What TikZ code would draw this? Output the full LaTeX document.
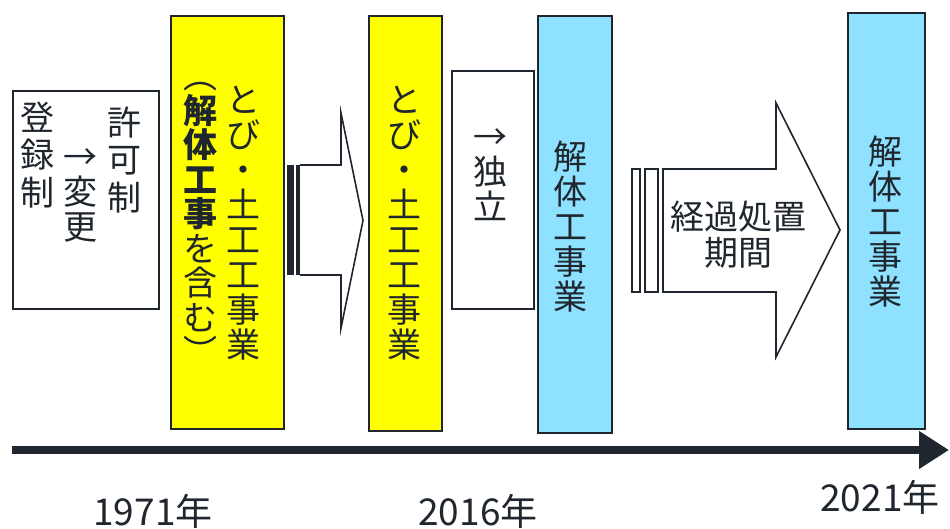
\documentclass[tikz,border=0pt]{standalone}
\usepackage{fontspec}
\setmainfont{Noto Sans CJK JP}
\usetikzlibrary{arrows.meta}
\definecolor{ln}{HTML}{1F262D}
\definecolor{yel}{HTML}{FFFF00}
\definecolor{sky}{HTML}{8EE1FF}
\begin{document}
\begin{tikzpicture}[x=1pt,y=-1pt,
  box/.style={draw=ln, line width=1.6pt, inner sep=0pt, anchor=north west},
  vtxt/.style={align=center, inner sep=0pt, text=ln, font=\fontsize{34}{35}\selectfont},
  vtxtl/.style={align=center, inner sep=0pt, text=ln, font=\fontsize{34}{37.5}\selectfont},
  blockarrow/.style={draw=ln, line width=1.6pt, fill=white, line join=miter},
  year/.style={inner sep=0pt, text=ln, font=\fontsize{37}{40}\selectfont}]
\useasboundingbox (0,0) rectangle (950,528);

% boxes
\node[box, fill=white, minimum width=146pt, minimum height=218pt] (reg) at (12,90) {};
\node[box, fill=yel, minimum width=113pt, minimum height=413pt] (y1) at (170,15) {};
\node[box, fill=yel, minimum width=73pt, minimum height=415pt] (y2) at (368,15) {};
\node[box, fill=white, minimum width=82pt, minimum height=238pt] (ind) at (451,70) {};
\node[box, fill=sky, minimum width=74pt, minimum height=417pt] (b1) at (537,15) {};
\node[box, fill=sky, minimum width=77pt, minimum height=416pt] (b2) at (847,12) {};

% texts in left box
\node[vtxtl] (t1) at (37,155) {登\\録\\制};
\node[vtxt] (t2) at (80,195) {→\\変\\更};
\node[vtxtl] (t3) at (124,160) {許\\可\\制};

% yellow 1
\node[vtxt] (t4) at (243,223.5) {と\\び\\・\\土\\工\\工\\事\\業};
\node[vtxt, font=\fontsize{34}{34.5}\selectfont] (t5) at (200,223.5) {︵\\\textbf{解}\\\textbf{体}\\\textbf{工}\\\textbf{事}\\を\\含\\む\\︶};

% yellow 2
\node[vtxt] (t6) at (404.5,223.5) {と\\び\\・\\土\\工\\工\\事\\業};

% independent
\node[vtxt] (t7) at (490,175) {→\\独\\立};

% blue boxes
\node[vtxt] (t8) at (570,227) {解\\体\\工\\事\\業};
\node[vtxt] (t9) at (885,222) {解\\体\\工\\事\\業};

% arrow 1
\fill[ln] (287,165) rectangle (294,275);
\fill[ln] (296,165) rectangle (300,275);
\draw[blockarrow] (300,165) -- (341,165) -- (341,113) -- (363,220.5) -- (341,328) -- (341,275) -- (300,275);

% arrow 2
\draw[blockarrow] (632,169) rectangle (640,292);
\draw[blockarrow] (645,169) rectangle (658,292);
\draw[blockarrow] (663,169) -- (776,169) -- (776,103) -- (840,230) -- (776,357) -- (776,292) -- (663,292) -- cycle;
\node[vtxt, font=\fontsize{34}{36}\selectfont] (t10) at (738,235) {経過処置\\期間};

% timeline
\coordinate (tl0) at (12,450);
\coordinate (tl1) at (949,450);
\draw[ln, line width=8pt, -{Triangle[length=30pt 0 0, width=36pt 0 0]}] (tl0) -- (tl1);

\node[year] (y1971) at (153,511) {1971年};
\node[year] (y2016) at (478,511) {2016年};
\node[year] (y2021) at (880,497) {2021年};
\end{tikzpicture}
\end{document}
